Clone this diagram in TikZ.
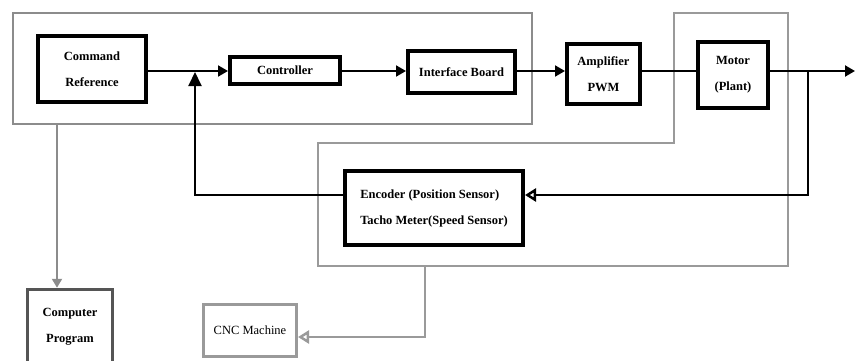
\documentclass[tikz,border=0pt]{standalone}
\usepackage{fontspec}
\setmainfont{Liberation Serif}
\usetikzlibrary{arrows.meta}
\definecolor{frameg}{HTML}{8C8C8C}
\definecolor{darkg}{HTML}{555555}
\definecolor{lightg}{HTML}{9A9A9A}
\begin{document}
\begin{tikzpicture}[x=1pt,y=-1pt,
  blk/.style={draw=black,line width=4pt,fill=white,inner sep=0pt,align=center,
    font=\bfseries\fontsize{12.5}{26}\selectfont},
  conn/.style={line width=2pt,draw=black},
  tipf/.style={-{Triangle[length=10pt,width=11pt]}},
  tipo/.style={-{Triangle[open,length=11pt,width=13pt,line width=2.5pt]}},
  frame/.style={draw=frameg,line width=2pt}]
\useasboundingbox (0,0) rectangle (856,361);
% grey frames
\draw[frame] (13,13) rectangle (532,124);
\draw[frame,draw=lightg] (318,143) -- (674,143) -- (674,13) -- (788,13) -- (788,266) -- (318,266) -- cycle;
% blocks
\node[blk,minimum width=108pt,minimum height=66pt] (cr) at (92,69) {Command\\Reference};
\node[blk,minimum width=110pt,minimum height=27pt] (ctl) at (285,70.5) {Controller};
\node[blk,minimum width=107pt,minimum height=42pt] (ib) at (461.5,72) {Interface Board};
\node[blk,minimum width=73pt,minimum height=60pt] (amp) at (603.5,74) {Amplifier\\PWM};
\node[blk,minimum width=70pt,minimum height=66pt] (mot) at (733,75) {Motor\\(Plant)};
\node[blk,minimum width=178pt,minimum height=74pt,align=left] (enc) at (434,208) {Encoder (Position Sensor)\\ Tacho Meter(Speed Sensor)};
\node[blk,draw=darkg,line width=3.5pt,minimum width=85pt,minimum height=74pt] (cp) at (70,326.5) {Computer\\ Program};
\node[blk,draw=lightg,line width=3pt,minimum width=93pt,minimum height=52pt] (cnc) at (250,330.5) {\mdseries CNC Machine};
% coordinates
\coordinate (ml) at (0,71);
\coordinate (tap) at (808,71);
\coordinate (out) at (855,71);
\coordinate (fb1) at (808,195);
\coordinate (fb2) at (195,195);
\coordinate (sum) at (195,72);
\coordinate (f1b) at (57,124);
\coordinate (f2b) at (425,266);
\coordinate (c2) at (425,337);
% main path
\draw[conn,tipf] (cr.east |- ml) -- (ctl.west |- ml);
\draw[conn,tipf] (ctl.east |- ml) -- (ib.west |- ml);
\draw[conn,tipf] (ib.east |- ml) -- (amp.west |- ml);
\draw[conn] (amp.east |- ml) -- (mot.west |- ml);
\draw[conn,tipf] (mot.east |- ml) -- (out);
% feedback
\draw[conn,tipo] (tap) -- (fb1) -- (fb1 -| enc.east);
\draw[conn,-{Triangle[length=14pt,width=13pt]}] (enc.west |- fb2) -- (fb2) -- (sum);
% grey connectors
\draw[line width=2pt,draw=frameg,-{Triangle[length=9pt,width=10pt]},color=frameg] (f1b) -- (f1b |- cp.north);
\draw[line width=2pt,draw=lightg,color=lightg,-{Triangle[open,length=11pt,width=13pt,line width=2.5pt]}] (f2b) -- (c2) -- (c2 -| cnc.east);
\end{tikzpicture}
\end{document}
